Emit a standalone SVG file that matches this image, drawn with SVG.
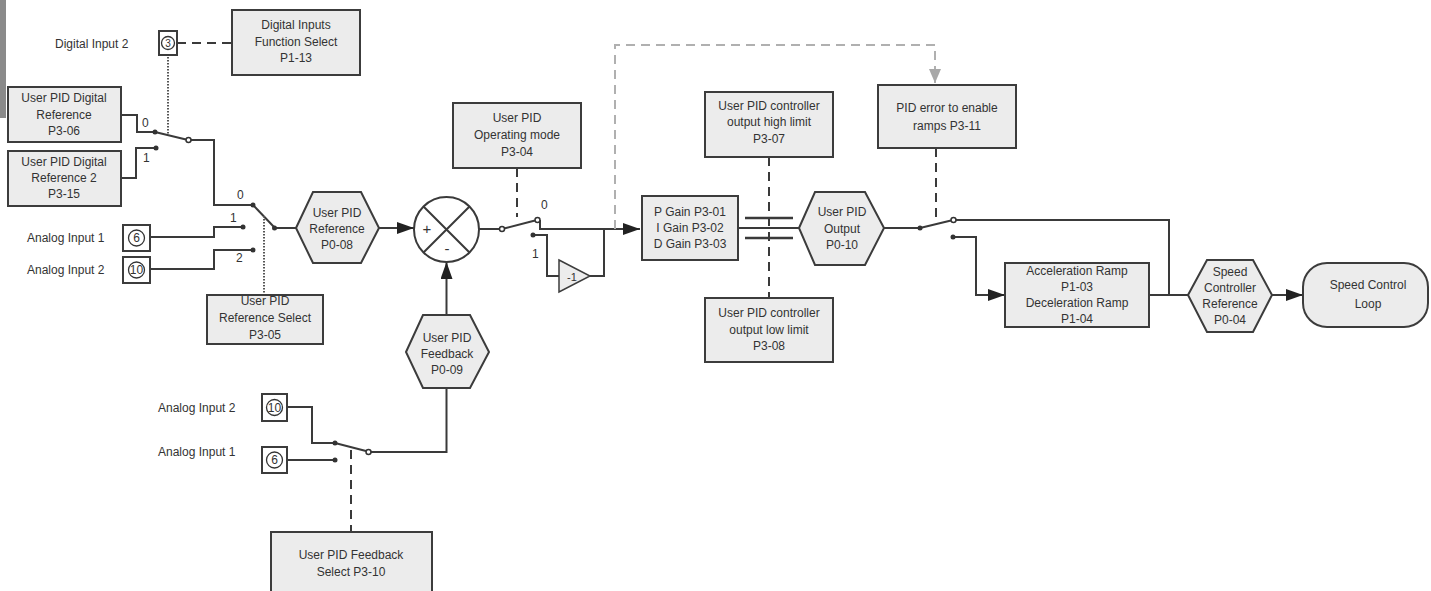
<svg xmlns="http://www.w3.org/2000/svg" width="1431" height="591" viewBox="0 0 1431 591">
<style>
.box{fill:#ececec;stroke:#3c3c3c;stroke-width:2}
.ln{fill:none;stroke:#3a3a3a;stroke-width:2}
.dash{fill:none;stroke:#3a3a3a;stroke-width:2;stroke-dasharray:9,6}
.dot{fill:none;stroke:#555;stroke-width:2;stroke-dasharray:1.5,1.5}
.gdash{fill:none;stroke:#b0b0b0;stroke-width:2;stroke-dasharray:9,6}
.t{font-family:"Liberation Sans",Arial,sans-serif;font-size:12px;fill:#333;text-anchor:middle}
.tl{font-family:"Liberation Sans",Arial,sans-serif;font-size:12px;fill:#333}
.fd{fill:#333}
.od{fill:#fff;stroke:#333;stroke-width:1.5}
</style>
<defs>
<marker id="ar" markerUnits="userSpaceOnUse" markerWidth="17" markerHeight="12" refX="17" refY="6" orient="auto"><path d="M0,0 L17,6 L0,12 Z" fill="#222"/></marker>
<marker id="gar" markerUnits="userSpaceOnUse" markerWidth="14" markerHeight="12" refX="14" refY="6" orient="auto"><path d="M0,0 L14,6 L0,12 Z" fill="#a8a8a8"/></marker>
</defs>
<rect width="1431" height="591" fill="#fff"/>
<rect x="0" y="0" width="6" height="118" fill="#8a8a8a"/>

<g id="connectors">
<path class="dash" d="M177,43 H232"/>
<path class="dot" d="M168,57 V136"/>
<path class="ln" d="M121,115 H137 V132 H155"/>
<path class="ln" d="M121,178 H136 V148 H156"/>
<path class="ln" d="M155,132 L186,139.5"/>
<path class="ln" d="M191,140 H214 V205 H253"/>
<path class="ln" d="M253,205 L274,227"/>
<path class="ln" d="M274,228 H296"/>
<path class="ln" d="M150,237 H214 V227 H243"/>
<path class="ln" d="M150,269 H214 V250 H253"/>
<path class="dot" d="M264,216 V295"/>
<path class="ln" d="M379,228 H414" marker-end="url(#ar)"/>
<path class="ln" d="M446.5,315 V262" marker-end="url(#ar)"/>
<path class="ln" d="M446.5,388 V452 H371"/>
<path class="ln" d="M335,443 L366,451"/>
<path class="ln" d="M287,407 H312 V443 H335"/>
<path class="ln" d="M287,460 H335"/>
<path class="dash" d="M351,450 V532"/>
<path class="ln" d="M479,229 H500"/>
<path class="ln" d="M504,228.5 L535,220.5"/>
<path class="ln" d="M540,220 V229 H640" marker-end="url(#ar)"/>
<path class="ln" d="M533,235 H547 V276 H559"/>
<path class="ln" d="M590,276 H604 V229"/>
<path class="dash" d="M517,168 V217"/>
<path class="gdash" d="M615,229 V45 H935 V83" marker-end="url(#gar)"/>
<path class="ln" d="M738,228 H799"/>
<path class="ln" d="M745,218 H793 M745,238 H793" style="stroke-width:2.5"/>
<path class="dash" d="M769,157 V298"/>
<path class="ln" d="M884,228 H920"/>
<path class="ln" d="M920,228 L951,220.5"/>
<path class="ln" d="M956,220 H1169 V295"/>
<path class="dash" d="M936,148 V222"/>
<path class="ln" d="M953,237 H976 V295 H1005" marker-end="url(#ar)"/>
<path class="ln" d="M1149,295 H1188"/>
<path class="ln" d="M1272,295 H1303" marker-end="url(#ar)"/>
<circle class="fd" cx="155" cy="132" r="2.5"/>
<circle class="fd" cx="156" cy="148" r="2.5"/>
<circle class="od" cx="188.5" cy="140" r="2.5"/>
<circle class="fd" cx="253" cy="205" r="2.5"/>
<circle class="fd" cx="243" cy="227" r="2.5"/>
<circle class="fd" cx="253" cy="250" r="2.5"/>
<circle class="fd" cx="274.5" cy="228" r="2.5"/>
<circle class="fd" cx="335" cy="443" r="2.5"/>
<circle class="fd" cx="335" cy="460" r="2.5"/>
<circle class="od" cx="368.5" cy="452" r="2.5"/>
<circle class="od" cx="502" cy="229" r="2.5"/>
<circle class="od" cx="537.5" cy="220" r="2.5"/>
<circle class="fd" cx="533" cy="235" r="2.5"/>
<circle class="fd" cx="920" cy="228" r="2.5"/>
<circle class="od" cx="953.5" cy="220" r="2.5"/>
<circle class="fd" cx="953" cy="237" r="2.5"/>
<text class="tl" x="142" y="127">0</text>
<text class="tl" x="143" y="162">1</text>
<text class="tl" x="237" y="199">0</text>
<text class="tl" x="230" y="222">1</text>
<text class="tl" x="236" y="262">2</text>
<text class="tl" x="541" y="209">0</text>
<text class="tl" x="532" y="258">1</text>
</g>

<g id="digital-input-2">
<text class="tl" x="55" y="48">Digital Input 2</text>
<rect class="box" x="159" y="31" width="18" height="24" style="fill:#fff"/>
<circle cx="168" cy="43" r="6.5" fill="none" stroke="#333" stroke-width="1.3"/>
<text class="t" x="168" y="47" style="font-size:10px">3</text>
</g>

<g id="digital-inputs-function-select">
<rect class="box" x="232" y="10" width="128" height="65"/>
<text class="t" x="296" y="29">Digital Inputs</text>
<text class="t" x="296" y="46">Function Select</text>
<text class="t" x="296" y="62">P1-13</text>
</g>

<g id="digital-reference">
<rect class="box" x="8" y="87" width="113" height="55"/>
<text class="t" x="64" y="102">User PID Digital</text>
<text class="t" x="64" y="119">Reference</text>
<text class="t" x="64" y="135">P3-06</text>
</g>

<g id="digital-reference-2">
<rect class="box" x="8" y="151" width="113" height="55"/>
<text class="t" x="64" y="166">User PID Digital</text>
<text class="t" x="64" y="182">Reference 2</text>
<text class="t" x="64" y="198">P3-15</text>
</g>

<g id="analog-input-1-top">
<text class="tl" x="27" y="242">Analog Input 1</text>
<rect class="box" x="123" y="225" width="27" height="26" style="fill:#fff"/>
<circle cx="136.5" cy="238" r="8" fill="none" stroke="#333" stroke-width="1.3"/>
<text class="t" x="136.5" y="242">6</text>
</g>

<g id="analog-input-2-top">
<text class="tl" x="27" y="274">Analog Input 2</text>
<rect class="box" x="123" y="257" width="27" height="26" style="fill:#fff"/>
<circle cx="136.5" cy="270" r="8" fill="none" stroke="#333" stroke-width="1.3"/>
<text class="t" x="136.5" y="274">10</text>
</g>

<g id="reference-select">
<rect class="box" x="207" y="295" width="116" height="49"/>
<text class="t" x="265" y="305">User PID</text>
<text class="t" x="265" y="322">Reference Select</text>
<text class="t" x="265" y="339">P3-05</text>
</g>

<g id="pid-reference">
<path class="box" d="M296,228 L313,192 L361,192 L379,228 L361,263 L313,263 Z"/>
<text class="t" x="337" y="217">User PID</text>
<text class="t" x="337" y="233">Reference</text>
<text class="t" x="337" y="249">P0-08</text>
</g>

<g id="summing-junction">
<circle cx="446.5" cy="229.5" r="32.5" fill="#fff" stroke="#3a3a3a" stroke-width="2"/>
<path class="ln" d="M423.5,206.5 L469.5,252.5 M469.5,206.5 L423.5,252.5"/>
<text class="t" x="427" y="234" style="font-size:15px">+</text>
<text class="t" x="447" y="254" style="font-size:15px">-</text>
</g>

<g id="pid-feedback">
<path class="box" d="M406,352 L423,315 L470,315 L489,352 L470,388 L423,388 Z"/>
<text class="t" x="447" y="342">User PID</text>
<text class="t" x="447" y="358">Feedback</text>
<text class="t" x="447" y="374">P0-09</text>
</g>

<g id="analog-input-2-bottom">
<text class="tl" x="158" y="412">Analog Input 2</text>
<rect class="box" x="262" y="394" width="25" height="27" style="fill:#fff"/>
<circle cx="274.5" cy="407.5" r="8" fill="none" stroke="#333" stroke-width="1.3"/>
<text class="t" x="274.5" y="412">10</text>
</g>

<g id="analog-input-1-bottom">
<text class="tl" x="158" y="456">Analog Input 1</text>
<rect class="box" x="262" y="447" width="25" height="26" style="fill:#fff"/>
<circle cx="274.5" cy="460" r="8" fill="none" stroke="#333" stroke-width="1.3"/>
<text class="t" x="274.5" y="464">6</text>
</g>

<g id="feedback-select">
<rect class="box" x="271" y="532" width="161" height="70"/>
<text class="t" x="351" y="559">User PID Feedback</text>
<text class="t" x="351" y="576">Select P3-10</text>
</g>

<g id="operating-mode">
<rect class="box" x="453" y="103" width="128" height="65"/>
<text class="t" x="517" y="122">User PID</text>
<text class="t" x="517" y="139">Operating mode</text>
<text class="t" x="517" y="156">P3-04</text>
</g>

<g id="inverter">
<path class="box" d="M559,260 L590,276 L559,292 Z" style="stroke-width:1.5"/>
<text class="t" x="572" y="281" style="font-size:11px">-1</text>
</g>

<g id="pid-gains">
<rect class="box" x="642" y="196" width="96" height="64"/>
<text class="t" x="690" y="216">P Gain P3-01</text>
<text class="t" x="690" y="232">I Gain P3-02</text>
<text class="t" x="690" y="248">D Gain P3-03</text>
</g>

<g id="high-limit">
<rect class="box" x="705" y="92" width="128" height="65"/>
<text class="t" x="769" y="110">User PID controller</text>
<text class="t" x="769" y="126">output high limit</text>
<text class="t" x="769" y="143">P3-07</text>
</g>

<g id="low-limit">
<rect class="box" x="705" y="298" width="128" height="64"/>
<text class="t" x="769" y="317">User PID controller</text>
<text class="t" x="769" y="334">output low limit</text>
<text class="t" x="769" y="350">P3-08</text>
</g>

<g id="pid-output">
<path class="box" d="M799,228 L815,192 L865,192 L884,228 L865,265 L815,265 Z"/>
<text class="t" x="842" y="216">User PID</text>
<text class="t" x="842" y="233">Output</text>
<text class="t" x="842" y="249">P0-10</text>
</g>

<g id="pid-error-ramps">
<rect class="box" x="878" y="85" width="138" height="63"/>
<text class="t" x="947" y="112">PID error to enable</text>
<text class="t" x="947" y="130">ramps P3-11</text>
</g>

<g id="ramps">
<rect class="box" x="1005" y="263" width="144" height="64"/>
<text class="t" x="1077" y="275">Acceleration Ramp</text>
<text class="t" x="1077" y="291">P1-03</text>
<text class="t" x="1077" y="307">Deceleration Ramp</text>
<text class="t" x="1077" y="323">P1-04</text>
</g>

<g id="speed-reference">
<path class="box" d="M1188,295 L1207,260 L1253,260 L1272,295 L1253,332 L1207,332 Z"/>
<text class="t" x="1230" y="276">Speed</text>
<text class="t" x="1230" y="292">Controller</text>
<text class="t" x="1230" y="308">Reference</text>
<text class="t" x="1230" y="324">P0-04</text>
</g>

<g id="speed-control-loop">
<rect class="box" x="1303" y="263" width="125" height="64" rx="24" ry="24"/>
<text class="t" x="1368" y="289">Speed Control</text>
<text class="t" x="1368" y="308">Loop</text>
</g>
</svg>
